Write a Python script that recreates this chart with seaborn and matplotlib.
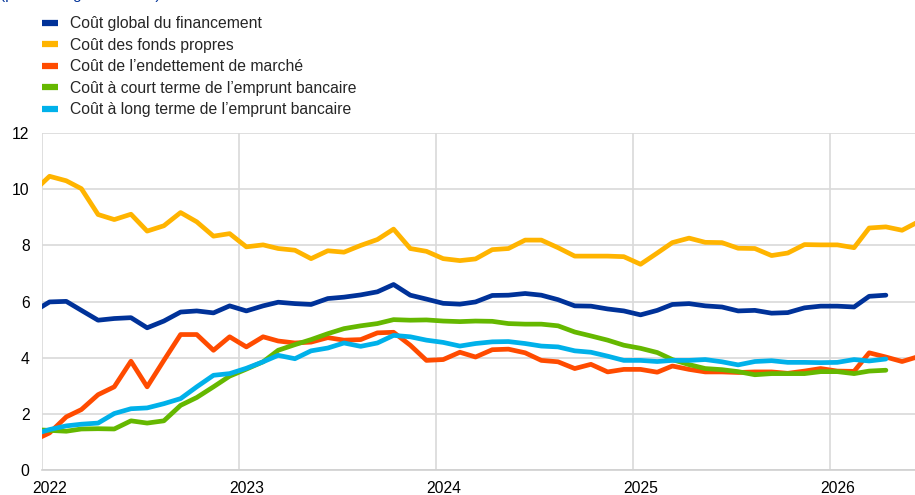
import numpy as np
import pandas as pd
import matplotlib
matplotlib.use('Agg')
import matplotlib.pyplot as plt
import matplotlib.dates as mdates
from matplotlib.lines import Line2D
import seaborn as sns

# monthly values, Dec 2021 onwards (mid-month points)
global_cost = [5.63, 5.99, 6.01, 5.69, 5.34, 5.40, 5.43, 5.07, 5.31, 5.63, 5.67, 5.60, 5.85,
               5.67, 5.85, 5.98, 5.93, 5.90, 6.11, 6.16, 6.24, 6.35, 6.61, 6.23, 6.09,
               5.94, 5.91, 5.99, 6.22, 6.23, 6.29, 6.23, 6.07, 5.85, 5.84, 5.74, 5.67,
               5.53, 5.69, 5.90, 5.93, 5.85, 5.81, 5.67, 5.69, 5.59, 5.61, 5.78, 5.84,
               5.84, 5.81, 6.19, 6.23]
equity_cost = [9.90, 10.46, 10.30, 10.02, 9.10, 8.92, 9.11, 8.51, 8.70, 9.17, 8.84, 8.33, 8.42,
               7.95, 8.02, 7.89, 7.83, 7.53, 7.81, 7.76, 8.00, 8.21, 8.58, 7.89, 7.79,
               7.53, 7.46, 7.52, 7.85, 7.89, 8.19, 8.19, 7.92, 7.62, 7.62, 7.62, 7.60,
               7.33, 7.73, 8.10, 8.26, 8.11, 8.10, 7.90, 7.89, 7.64, 7.73, 8.03, 8.02,
               8.02, 7.92, 8.62, 8.66, 8.54, 8.85]
market_debt = [1.05, 1.33, 1.90, 2.16, 2.69, 2.97, 3.88, 2.97, 3.91, 4.83, 4.83, 4.27, 4.75,
               4.39, 4.75, 4.60, 4.53, 4.56, 4.72, 4.63, 4.65, 4.89, 4.91, 4.45, 3.91,
               3.94, 4.20, 4.03, 4.29, 4.31, 4.18, 3.91, 3.86, 3.62, 3.77, 3.50, 3.59,
               3.59, 3.49, 3.71, 3.59, 3.50, 3.50, 3.48, 3.50, 3.50, 3.45, 3.53, 3.62,
               3.53, 3.52, 4.18, 4.03, 3.87, 4.05]
short_loans = [1.45, 1.42, 1.39, 1.47, 1.48, 1.47, 1.76, 1.68, 1.76, 2.31, 2.59, 2.97, 3.35,
               3.60, 3.86, 4.27, 4.47, 4.65, 4.86, 5.04, 5.14, 5.22, 5.36, 5.34, 5.35,
               5.31, 5.29, 5.31, 5.30, 5.22, 5.20, 5.20, 5.14, 4.92, 4.78, 4.63, 4.45,
               4.34, 4.19, 3.94, 3.76, 3.62, 3.58, 3.51, 3.40, 3.44, 3.44, 3.44, 3.51,
               3.51, 3.44, 3.53, 3.56]
long_loans = [1.27, 1.45, 1.58, 1.64, 1.68, 2.02, 2.19, 2.22, 2.37, 2.55, 2.97, 3.38, 3.44,
              3.63, 3.86, 4.09, 3.97, 4.25, 4.35, 4.53, 4.41, 4.53, 4.80, 4.75, 4.63,
              4.55, 4.42, 4.51, 4.57, 4.58, 4.51, 4.42, 4.39, 4.25, 4.20, 4.06, 3.91,
              3.91, 3.87, 3.91, 3.91, 3.94, 3.86, 3.75, 3.87, 3.90, 3.84, 3.84, 3.83,
              3.84, 3.94, 3.89, 3.96]

labels = ["Coût global du financement",
          "Coût des fonds propres",
          "Coût de l\u2019endettement de marché",
          "Coût à court terme de l\u2019emprunt bancaire",
          "Coût à long terme de l\u2019emprunt bancaire"]
colors = ['#003299', '#FFB400', '#FF4B00', '#65B800', '#00B1EA']
year_labels = ['2022', '2023', '2024', '2025', '2026']

series = [global_cost, equity_cost, market_debt, short_loans, long_loans]
n = max(len(s) for s in series)
dates = pd.date_range('2021-12-01', periods=n, freq='MS') + pd.Timedelta(days=14)

rows = []
for lab, vals in zip(labels, series):
    for d, v in zip(dates, vals):
        rows.append({'date': d, 'value': v, 'series': lab})
df = pd.DataFrame(rows)

sns.set_style("white")
plt.rcParams['font.family'] = ['Liberation Sans', 'DejaVu Sans']

fig = plt.figure(figsize=(9.15, 4.95), dpi=100)
ax = fig.add_axes([42 / 915, 1 - 470.3 / 495, 1 - 42 / 915, (470.3 - 133) / 495])

sns.lineplot(data=df, x='date', y='value', hue='series', hue_order=labels,
             palette=colors, linewidth=3.4, legend=False, ax=ax,
             solid_capstyle='round')

ax.set_xlim(pd.Timestamp('2022-01-01'), pd.Timestamp('2026-06-08'))
ax.set_ylim(0, 12)
ax.set_yticks(range(0, 13, 2))

years = [pd.Timestamp(y + '-01-01') for y in year_labels]
ax.set_xticks(years)
ax.set_xticklabels([''] * len(years))
ax.set_xticks([pd.Timestamp(y + '-01-16') for y in year_labels], minor=True)
ax.set_xticklabels(year_labels, minor=True)

ax.grid(True, which='major', color='#d9d9d9', linewidth=1.2)
ax.set_axisbelow(True)
ax.tick_params(axis='both', which='both', length=0, labelsize=11.3, colors='#000000')
ax.tick_params(axis='y', pad=9)
ax.tick_params(axis='x', which='minor', pad=8)
for side in ['top', 'right', 'left']:
    ax.spines[side].set_visible(False)
ax.spines['bottom'].set_color('#d0d0d0')
ax.spines['bottom'].set_linewidth(1.2)
ax.set_xlabel('')
ax.set_ylabel('')

handles = [Line2D([0], [0], color=c, linewidth=4.5, solid_capstyle='butt') for c in colors]
fig.legend(handles, labels, loc='upper left', bbox_to_anchor=(42 / 915, 1 - 16 / 495),
           frameon=False, fontsize=11.3, handlelength=1.05, handletextpad=0.75,
           labelspacing=0.42, borderaxespad=0, borderpad=0)

fig.text(0, 1 + 1.5 / 495, '(pourcentages annuels)', color='#003299', fontsize=11,
         va='baseline', ha='left')

fig.savefig('out.png', dpi=100)
